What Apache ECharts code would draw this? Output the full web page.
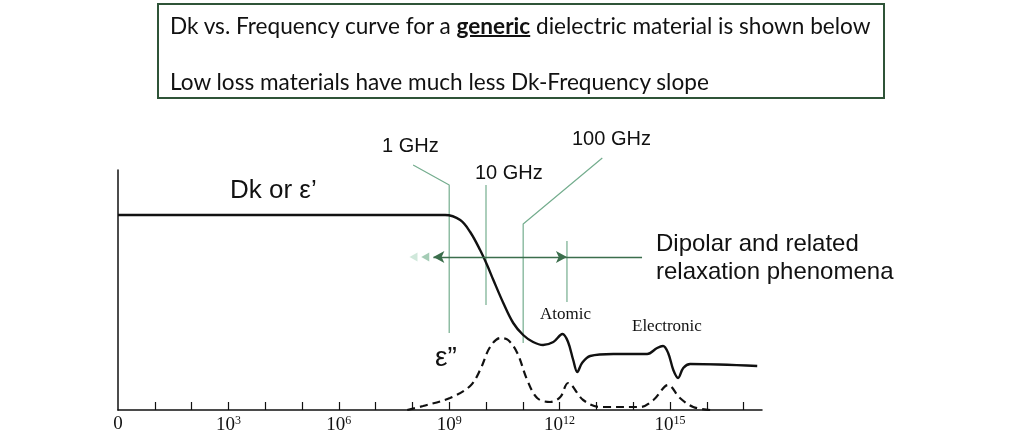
<!DOCTYPE html>
<html lang="en">

<head>
    <meta charset="UTF-8">
    <title>Dk vs. Frequency</title>
    <script src="https://cdn.jsdelivr.net/npm/echarts/dist/echarts.min.js"></script>
    <style>
        html, body { margin: 0; padding: 0; background: #fff; }
        #main { position: absolute; left: 0; top: 0; width: 1021px; height: 435px; }
        #box {
            position: absolute; left: 157px; top: 3px; width: 724px; height: 92px;
            border: 2px solid #2f5438; font-family: Lato, 'Open Sans', sans-serif;
            font-size: 22.6px; color: #111;
        }
        #box div { position: absolute; left: 11px; line-height: 26px; white-space: nowrap; }
        #box b { text-decoration: underline; text-decoration-thickness: 2px; }
    </style>
</head>

<body>
    <div id="main"></div>
    <div id="box">
        <div style="top:8px">Dk vs. Frequency curve for a <b>generic</b> dielectric material is shown below</div>
        <div style="top:64px">Low loss materials have much less Dk-Frequency slope</div>
    </div>

    <script>
        // x = log10(frequency), y = height above the axis (arbitrary units)
        const dkCurve = [[0, 19.5], [8.89, 19.5], [9.30, 19.0], [9.57, 17.8], [9.84, 16.0], [10.03, 14.5],
            [10.20, 13.0], [10.47, 10.7], [10.74, 8.7], [11.01, 7.5], [11.28, 6.8], [11.55, 6.5], [11.83, 6.8],
            [12.08, 7.6], [12.23, 6.8], [12.37, 5.0], [12.48, 3.8], [12.61, 4.7], [12.83, 5.4], [13.46, 5.6],
            [14.38, 5.6], [14.65, 6.2], [14.81, 6.4], [14.95, 5.7], [15.09, 4.0], [15.22, 3.2], [15.36, 4.2],
            [15.55, 4.6], [17.37, 4.4]];
        const lossCurve = [[7.86, 0], [8.29, 0.4], [9.02, 1.2], [9.57, 2.4], [9.84, 4.0], [10.11, 6.3],
            [10.39, 7.2], [10.60, 7.0], [10.85, 5.7], [11.12, 3.0], [11.39, 1.2], [11.74, 0.8], [12.02, 1.3],
            [12.23, 2.7], [12.64, 1.0], [13.10, 0.3], [14.19, 0.3], [14.55, 1.0], [14.95, 2.5], [15.27, 1.2],
            [15.63, 0.3], [16.09, 0]];

        // leader lines of the frequency labels
        const ghz1Leader = [[8.02, 24.5], [9, 22.5], [9, 7.7]];
        const ghz10Leader = [[10, 22.5], [10, 10.5]];
        const ghz100Leader = [[13.16, 25.2], [11.01, 18.6], [11.01, 6.7]];

        // dipolar relaxation arrow
        const arrowY = 15.3;
        const arrowFrom = 8.57, arrowTo = 12.2, arrowTail = 14.24;
        const arrowBar = [[12.2, 16.9], [12.2, 10.8]];
        const ghostHeads = [[8.03, arrowY], [8.35, arrowY]];

        const tickValues = [1, 2, 3, 4, 5, 6, 7, 8, 9, 10, 11, 12, 13, 14, 15, 16, 17];
        const labelValues = [0, 3, 6, 9, 12, 15];

        let myChart = echarts.init(document.getElementById('main'));

        const leaderStyle = { color: '#74ad8e', width: 1.2 };

        function leader(data) {
            return {
                type: 'line', data: data, symbol: 'none', clip: false, silent: true,
                lineStyle: leaderStyle, z: 1
            };
        }

        let option = {
            animation: false,
            grid: { left: 118, right: 259, top: 170, bottom: 25 },
            xAxis: {
                type: 'value', min: 0, max: 17.5,
                axisLine: { lineStyle: { color: '#111', width: 1.5 } },
                axisTick: { inside: true, length: 8, customValues: tickValues, lineStyle: { color: '#111', width: 1.2 } },
                splitLine: { show: false },
                axisLabel: {
                    customValues: labelValues,
                    margin: 5,
                    formatter: function (v) {
                        return v === 0 ? '{b|0}' : '{b|10}{s|' + v + '}';
                    },
                    rich: {
                        b: { fontFamily: 'Liberation Serif', fontSize: 19, color: '#111' },
                        s: { fontFamily: 'Liberation Serif', fontSize: 12, color: '#111', padding: [0, 0, 9, 0] }
                    }
                }
            },
            yAxis: {
                type: 'value', min: 0, max: 24,
                axisLine: { show: true, lineStyle: { color: '#111', width: 1.5 } },
                axisTick: { show: false }, axisLabel: { show: false }, splitLine: { show: false }
            },
            series: [
                leader(ghz1Leader),
                leader(ghz10Leader),
                leader(ghz100Leader),
                leader(arrowBar),
                {
                    type: 'line', data: [], symbol: 'none', silent: true, z: 2,
                    markLine: {
                        silent: true, symbol: ['none', 'none'], label: { show: false },
                        lineStyle: { color: '#3b6e4c', width: 1.3, type: 'solid' },
                        data: [
                            [{ coord: [arrowFrom, arrowY], symbol: 'arrow', symbolSize: [9, 11] },
                             { coord: [arrowTo, arrowY], symbol: 'arrow', symbolSize: [9, 11] }],
                            [{ coord: [arrowTo, arrowY] }, { coord: [arrowTail, arrowY] }]
                        ]
                    }
                },
                {
                    type: 'scatter', data: ghostHeads, symbol: 'triangle', symbolSize: [9, 8],
                    symbolRotate: 90, silent: true, z: 2,
                    itemStyle: {
                        color: function (p) { return p.dataIndex === 0 ? '#c4e2d2' : '#8dbfa3'; }
                    }
                },
                {
                    type: 'line', data: lossCurve, symbol: 'none', smooth: 0.35, silent: true, z: 3,
                    lineStyle: { color: '#111', width: 2.2, type: [8, 5] }
                },
                {
                    type: 'line', data: dkCurve, symbol: 'none', smooth: 0.35, silent: true, z: 4,
                    lineStyle: { color: '#111', width: 2.4 }
                }
            ],
            graphic: [
                { type: 'text', left: 230, top: 178, style: { text: 'Dk or ε’', font: '26px "Liberation Sans"', fill: '#111' } },
                { type: 'text', left: 382, top: 136, style: { text: '1 GHz', font: '20px "Liberation Sans"', fill: '#111' } },
                { type: 'text', left: 475, top: 163, style: { text: '10 GHz', font: '20px "Liberation Sans"', fill: '#111' } },
                { type: 'text', left: 572, top: 129, style: { text: '100 GHz', font: '20px "Liberation Sans"', fill: '#111' } },
                { type: 'text', left: 656, top: 230, style: { text: 'Dipolar and related\nrelaxation phenomena', font: '24px "Liberation Sans"', lineHeight: 28, fill: '#111' } },
                { type: 'text', left: 540, top: 306, style: { text: 'Atomic', font: '17px "Liberation Serif"', fill: '#111' } },
                { type: 'text', left: 632, top: 318, style: { text: 'Electronic', font: '17px "Liberation Serif"', fill: '#111' } },
                { type: 'text', left: 435, top: 344, style: { text: 'ε”', font: '28px "Liberation Sans"', fill: '#111' } }
            ]
        };

        myChart.setOption(option);
    </script>
</body>

</html>
